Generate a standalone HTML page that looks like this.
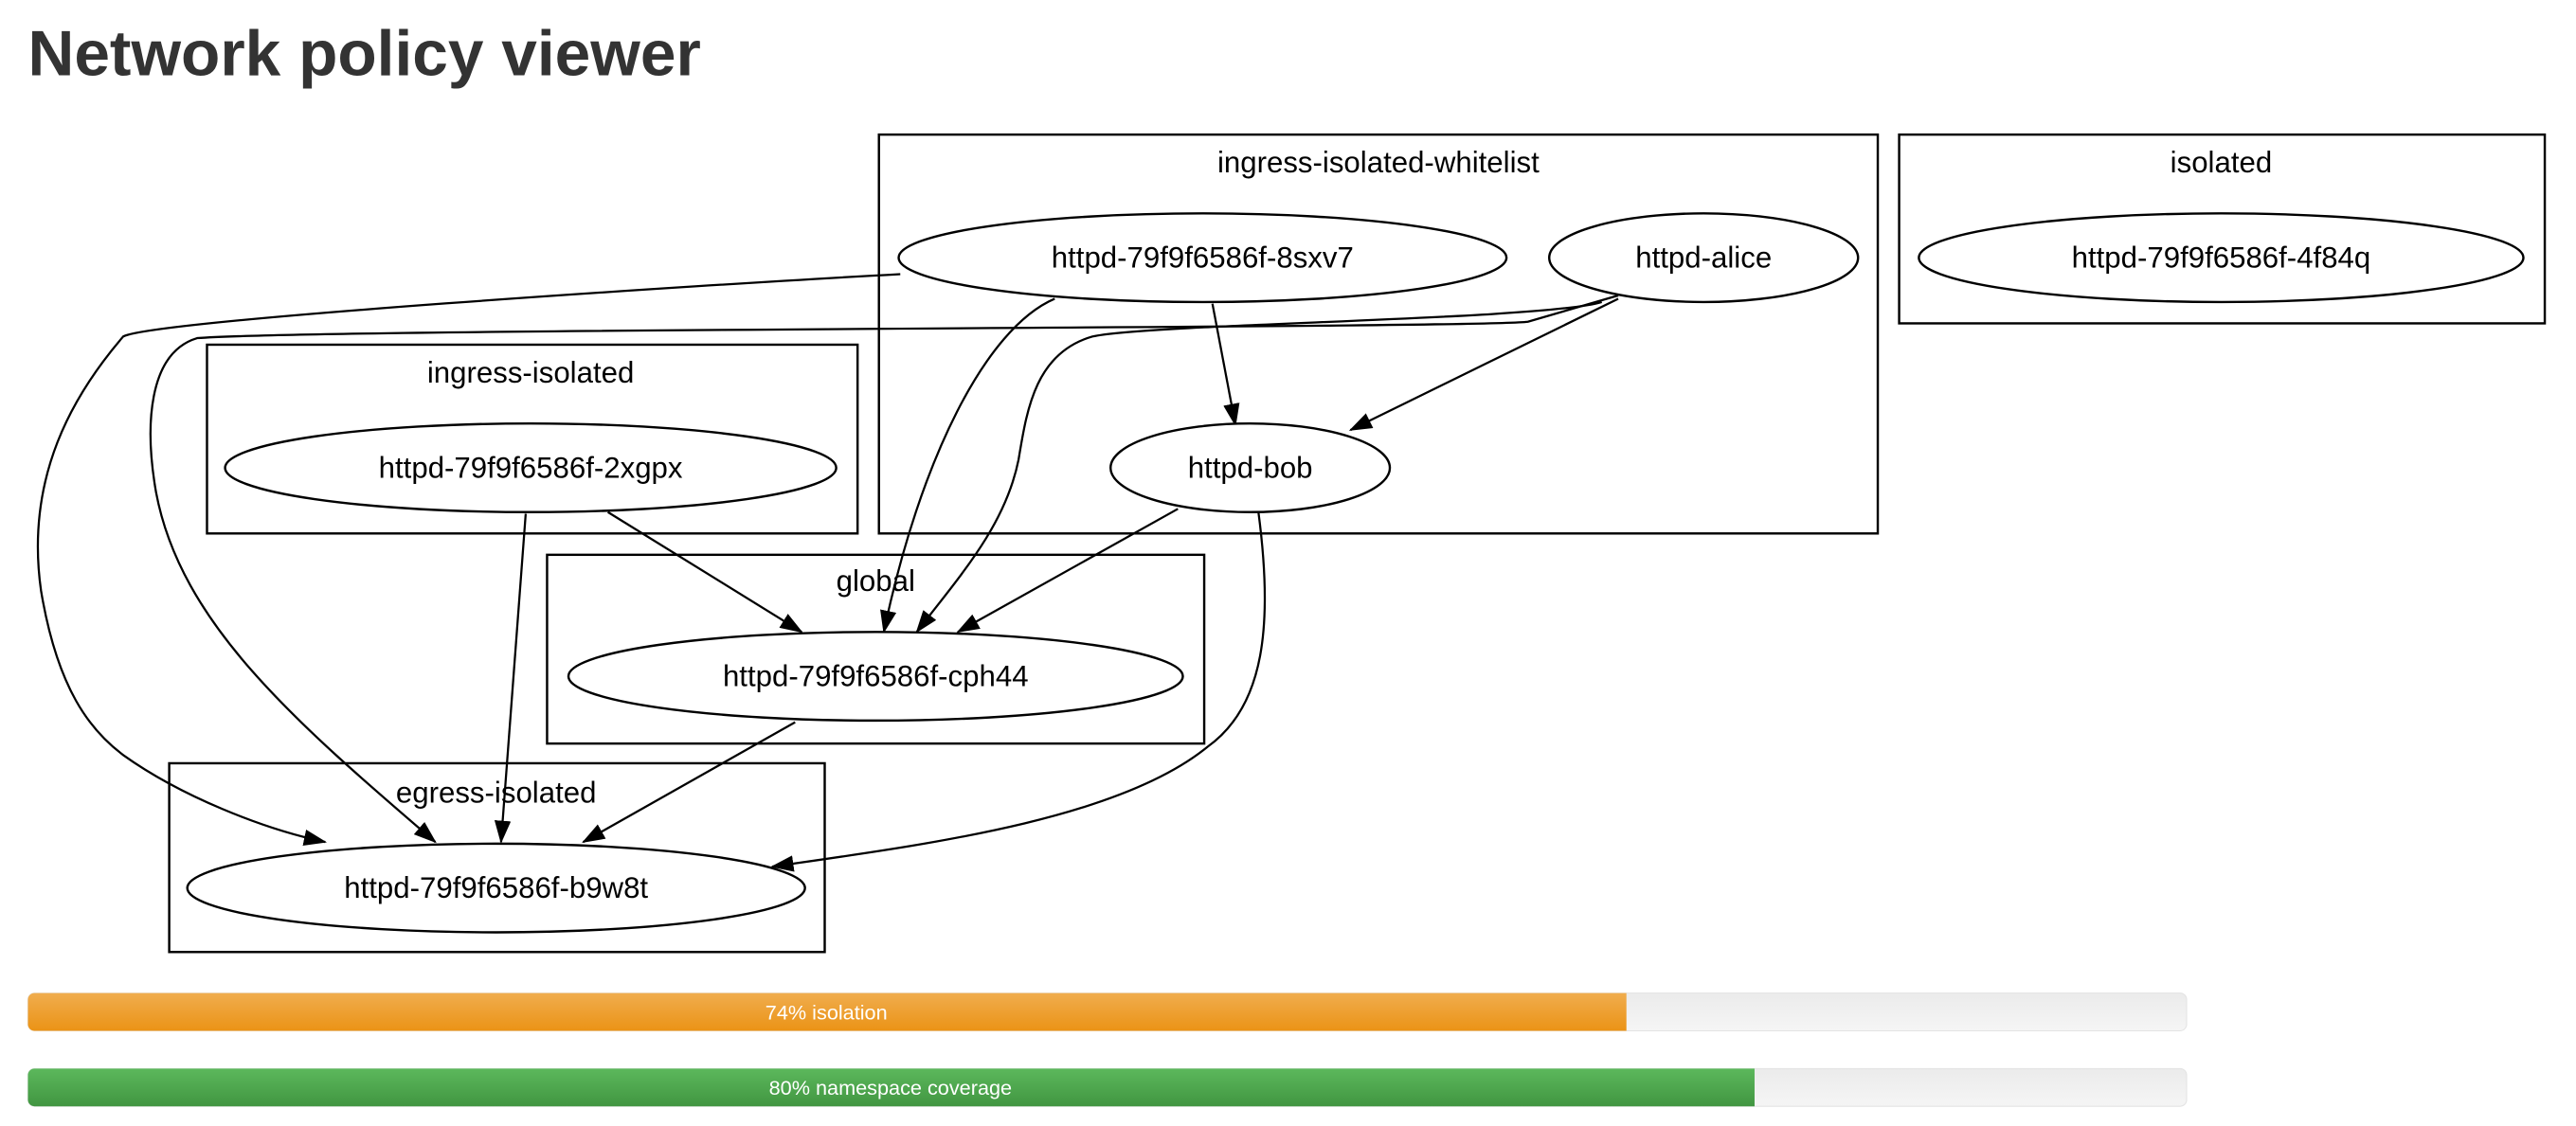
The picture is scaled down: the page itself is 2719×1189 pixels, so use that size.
<!DOCTYPE html>
<html><head><meta charset="utf-8"><style>
html,body{margin:0;padding:0;background:#fff;width:2719px;height:1189px;overflow:hidden}
svg{display:block}
text{font-family:"Liberation Sans",Arial,sans-serif}
</style></head><body>
<svg width="2719" height="1189" viewBox="0 0 1568 686" preserveAspectRatio="none" xmlns="http://www.w3.org/2000/svg">
<defs>
<marker id="a" markerWidth="10" markerHeight="8" refX="9" refY="4" orient="auto" markerUnits="userSpaceOnUse">
<path d="M0,0 L10,4 L0,8 Z" fill="#000"/>
</marker>
<marker id="ah" viewBox="0 0 14 10" markerWidth="14" markerHeight="10" refX="13" refY="5" orient="auto" markerUnits="userSpaceOnUse">
<path d="M0,0 L14,5 L0,10 Z" fill="#000"/>
</marker>
<linearGradient id="go" x1="0" y1="0" x2="0" y2="1"><stop offset="0" stop-color="#f0ad4e"/><stop offset="1" stop-color="#eb9316"/></linearGradient>
<linearGradient id="gg" x1="0" y1="0" x2="0" y2="1"><stop offset="0" stop-color="#5cb85c"/><stop offset="1" stop-color="#419641"/></linearGradient>
<linearGradient id="gb" x1="0" y1="0" x2="0" y2="1"><stop offset="0" stop-color="#ebebeb"/><stop offset="1" stop-color="#f5f5f5"/></linearGradient>
</defs>
<text x="17" y="46" font-size="39" font-weight="bold" fill="#333">Network policy viewer</text>

<g fill="none" stroke="#000" stroke-width="1.4">
<rect x="535" y="82" width="608" height="243"/>
<rect x="1156" y="82" width="393" height="115"/>
<rect x="126" y="210" width="396" height="115"/>
<rect x="333" y="338" width="400" height="115"/>
<rect x="103" y="465" width="399" height="115"/>
</g>
<g font-size="18" text-anchor="middle" fill="#000">
<text x="839" y="105">ingress-isolated-whitelist</text>
<text x="1352" y="105">isolated</text>
<text x="323" y="233">ingress-isolated</text>
<text x="533" y="360">global</text>
<text x="302" y="489">egress-isolated</text>
</g>

<g fill="none" stroke="#000" stroke-width="1.3" marker-end="url(#ah)">
<path d="M548,167 C420,174 95,195 75,205 C45,240 15,290 25,360 C35,420 55,445 75,460 C110,485 160,505 198,513"/>
<path d="M985,180 L930,196 C900,200 200,200 120,206 C90,215 88,260 95,300 C110,380 180,440 265,513"/>
<path d="M642,182 C600,200 560,280 538,385"/>
<path d="M975,184 C940,195 700,197 665,205 C630,215 625,250 620,280 C612,320 585,350 558,385"/>
<path d="M738,185 L752,259"/>
<path d="M985,182 L822,262"/>
<path d="M370,312 L488,385"/>
<path d="M320,313 L305,513"/>
<path d="M717,310 L583,385"/>
<path d="M766,312 C775,380 770,430 735,455 C680,500 560,515 470,528"/>
<path d="M484,440 L355,513"/>
</g>

<g fill="#fff" stroke="#000" stroke-width="1.4">
<ellipse cx="732" cy="157" rx="185" ry="27"/>
<ellipse cx="1037" cy="157" rx="94" ry="27"/>
<ellipse cx="1352" cy="157" rx="184" ry="27"/>
<ellipse cx="323" cy="285" rx="186" ry="27"/>
<ellipse cx="761" cy="285" rx="85" ry="27"/>
<ellipse cx="533" cy="412" rx="187" ry="27"/>
<ellipse cx="302" cy="541" rx="188" ry="27"/>
</g>
<g font-size="18" text-anchor="middle" fill="#000">
<text x="732" y="163">httpd-79f9f6586f-8sxv7</text>
<text x="1037" y="163">httpd-alice</text>
<text x="1352" y="163">httpd-79f9f6586f-4f84q</text>
<text x="323" y="291">httpd-79f9f6586f-2xgpx</text>
<text x="761" y="291">httpd-bob</text>
<text x="533" y="418">httpd-79f9f6586f-cph44</text>
<text x="302" y="547">httpd-79f9f6586f-b9w8t</text>
</g>

<rect x="17" y="605" width="1314" height="23" rx="4" fill="url(#gb)" stroke="#e3e3e3" stroke-width="0.6"/>
<path d="M21,605 H990 V628 H21 A4,4 0 0 1 17,624 V609 A4,4 0 0 1 21,605 Z" fill="url(#go)"/>
<text x="503" y="621" font-size="12.5" text-anchor="middle" fill="#fff">74% isolation</text>
<rect x="17" y="651" width="1314" height="23" rx="4" fill="url(#gb)" stroke="#e3e3e3" stroke-width="0.6"/>
<path d="M21,651 H1068 V674 H21 A4,4 0 0 1 17,670 V655 A4,4 0 0 1 21,651 Z" fill="url(#gg)"/>
<text x="542" y="667" font-size="12.5" text-anchor="middle" fill="#fff">80% namespace coverage</text>
</svg>
</body></html>
